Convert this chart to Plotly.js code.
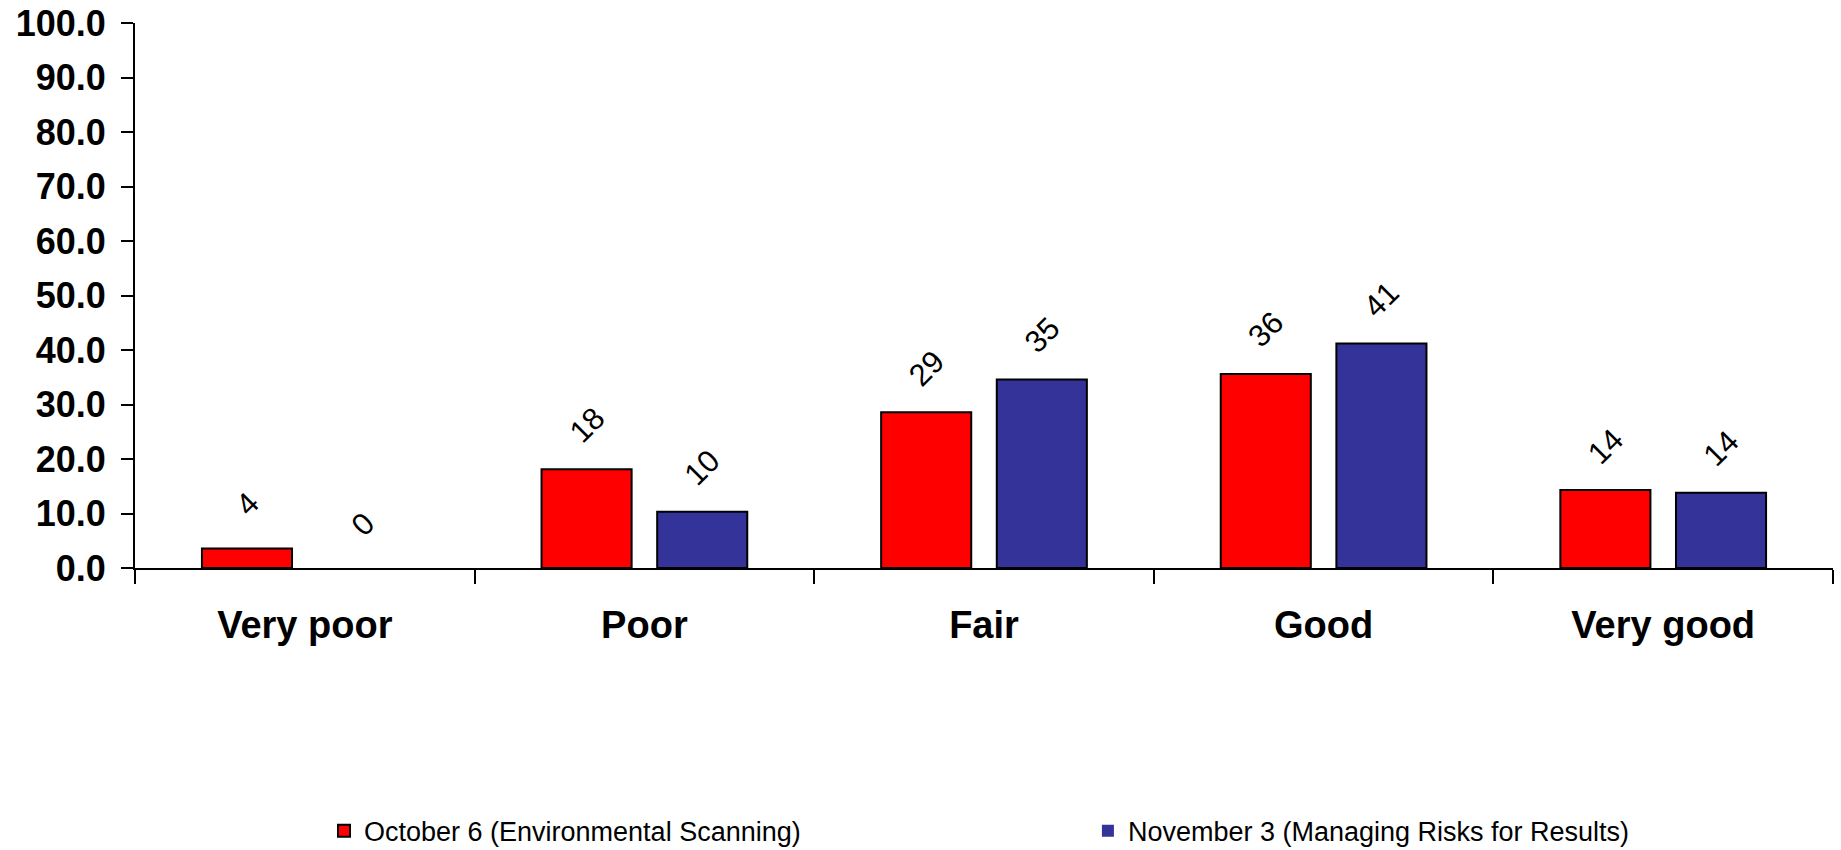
<!DOCTYPE html>
<html>
<head>
<meta charset="utf-8">
<script src="https://cdn.plot.ly/plotly-3.0.1.min.js"></script>
<style>
  html, body { margin: 0; padding: 0; background: #ffffff; }
  #chart { width: 1841px; height: 850px; }
</style>
</head>
<body>
<div id="chart"></div>
<script>
// ---- data ----
const categories = ["Very poor", "Poor", "Fair", "Good", "Very good"];
const seriesNames = ["October 6 (Environmental Scanning)", "November 3 (Managing Risks for Results)"];
const october = [3.6, 18.1, 28.6, 35.6, 14.3];
const november = [0.0, 10.3, 34.6, 41.2, 13.8];
const yTicks = [0, 10, 20, 30, 40, 50, 60, 70, 80, 90, 100];

// ---- styles ----
const colors = ["#FF0000", "#333399"];
const barShift = 57.8; // px offset of each bar centre from category centre (label placement)
const legendFont = { family: "Liberation Sans, Arial, sans-serif", size: 27, color: "#000000" };

const traces = [
  {
    type: "bar", name: seriesNames[0], x: categories, y: october,
    legend: "legend",
    marker: { color: colors[0], line: { color: "#000000", width: october.map(v => v === 0 ? 0 : 2) } },
    hoverinfo: "x+y"
  },
  {
    type: "bar", name: seriesNames[1], x: categories, y: november,
    legend: "legend2",
    marker: { color: colors[1], line: { color: "#000000", width: november.map(v => v === 0 ? 0 : 2) } },
    hoverinfo: "x+y"
  }
];

const annotations = [];
[october, november].forEach((vals, si) => {
  vals.forEach((v, i) => {
    annotations.push({
      x: categories[i], y: v, xref: "x", yref: "y",
      text: String(Math.round(v)),
      showarrow: false, textangle: -45,
      xanchor: "center", yanchor: "middle",
      xshift: si === 0 ? -barShift : barShift,
      yshift: 44,
      font: { family: "Liberation Sans, Arial, sans-serif", size: 31, color: "#000000" }
    });
  });
});

const layout = {
  width: 1841, height: 850,
  paper_bgcolor: "#ffffff", plot_bgcolor: "#ffffff",
  margin: { l: 135, r: 8, t: 23, b: 282, pad: 0, autoexpand: false },
  barmode: "group",
  bargap: 0.319,
  bargroupgap: 0.221,
  showlegend: true,
  legend: {
    orientation: "h",
    x: 0.1113, xanchor: "left",
    y: -0.483, yanchor: "middle",
    font: legendFont,
    bgcolor: "rgba(0,0,0,0)", borderwidth: 0
  },
  legend2: {
    orientation: "h",
    x: 0.5612, xanchor: "left",
    y: -0.483, yanchor: "middle",
    font: legendFont,
    bgcolor: "rgba(0,0,0,0)", borderwidth: 0
  },
  xaxis: {
    type: "category",
    tickson: "boundaries",
    ticks: "outside", ticklen: 14, tickwidth: 2, tickcolor: "#000000",
    showline: true, linecolor: "#000000", linewidth: 2,
    showgrid: false, zeroline: false,
    tickfont: { family: "Liberation Sans, Arial, sans-serif", size: 38, color: "#000000", weight: "bold" },
    ticklabelstandoff: 22,
    fixedrange: true
  },
  yaxis: {
    range: [0, 100],
    tickvals: yTicks,
    ticktext: yTicks.map(v => v.toFixed(1)),
    ticks: "outside", ticklen: 12, tickwidth: 2, tickcolor: "#000000",
    showline: true, linecolor: "#000000", linewidth: 2,
    showgrid: false, zeroline: false,
    tickfont: { family: "Liberation Sans, Arial, sans-serif", size: 36, color: "#000000", weight: "bold" },
    ticklabelstandoff: 8,
    fixedrange: true
  },
  annotations: annotations
};

Plotly.newPlot("chart", traces, layout, { displayModeBar: false, staticPlot: true });
</script>
</body>
</html>
